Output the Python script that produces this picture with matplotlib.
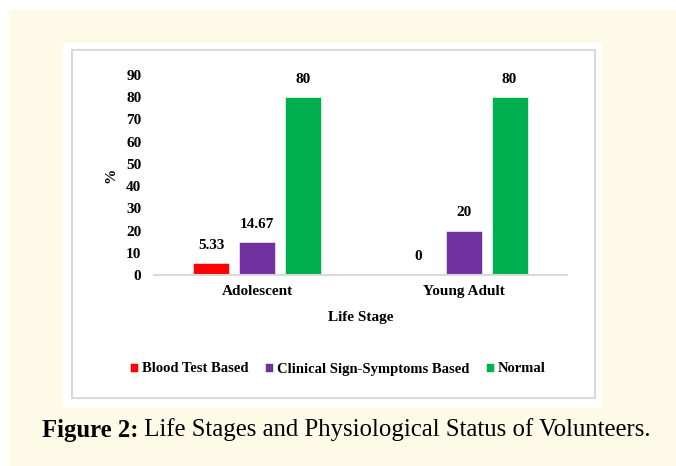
import numpy as np
import matplotlib.pyplot as plt
from matplotlib.patches import Rectangle

# data
stages = ["Adolescent", "Young Adult"]
series = ["Blood Test Based", "Clinical Sign-Symptoms Based", "Normal"]
blood = [5.33, 0]
clinical = [14.67, 20]
normal = [80, 80]
labels_blood = ["5.33", "0"]
labels_clinical = ["14.67", "20"]
labels_normal = ["80", "80"]
colors = ["#FF0000", "#7030A0", "#00B050"]

W, H = 676, 466
fig = plt.figure(figsize=(W / 100, H / 100), dpi=100)
fig.patch.set_facecolor("white")

def px_rect(x0, y0, x1, y1, **kw):
    # rectangle given in image pixel coords (origin top-left)
    r = Rectangle((x0 / W, 1 - y1 / H), (x1 - x0) / W, (y1 - y0) / H,
                  transform=fig.transFigure, **kw)
    fig.patches.append(r)

px_rect(9, 10, 676, 466, facecolor="#FEFAE8", edgecolor="none", zorder=0)
px_rect(63, 43, 602, 408, facecolor="white", edgecolor="none", zorder=1)
px_rect(72, 50, 595, 398, facecolor="white", edgecolor="#D9D9D9", linewidth=1.5, zorder=2)

font = "Liberation Serif"
fs = 11
ax = fig.add_axes([154 / W, 1 - 275 / H, 413 / W, 200 / H])
ax.set_facecolor("none")
ax.set_zorder(3)

x = np.arange(len(stages))
width = 0.175
step = 0.222
for i, (vals, labs) in enumerate(zip([blood, clinical, normal],
                                     [labels_blood, labels_clinical, labels_normal])):
    pos = x + (i - 1) * step
    bars = ax.bar(pos, vals, width, color=colors[i], label=series[i],
                  edgecolor="white", linewidth=0.4)
    for b, lab in zip(bars, labs):
        ax.annotate(lab, (b.get_x() + b.get_width() / 2, b.get_height()),
                    xytext=(0, 13), textcoords="offset points",
                    ha="center", va="center", fontsize=fs,
                    fontweight="bold", family=font)

ax.set_xlim(-0.5, 1.5)
ax.set_ylim(0, 90)
ax.set_yticks(np.arange(0, 91, 10))
ax.set_xticks(x)
ax.set_xticklabels(stages)
for sp in ["left", "right", "top"]:
    ax.spines[sp].set_visible(False)
ax.spines["bottom"].set_color("#D9D9D9")
ax.spines["bottom"].set_linewidth(1.5)
ax.tick_params(axis="both", length=0)
ax.tick_params(axis="y", pad=9)
ax.tick_params(axis="x", pad=7)
for t in ax.get_xticklabels() + ax.get_yticklabels():
    t.set_family(font)
    t.set_fontweight("bold")
    t.set_fontsize(fs)

fig.text(111 / W, 1 - 175 / H, "%", rotation=90, ha="center", va="center",
         family=font, fontweight="bold", fontsize=fs, zorder=4)
fig.text(361 / W, 1 - 317 / H, "Life Stage", ha="center", va="center",
         family=font, fontweight="bold", fontsize=fs, zorder=4)

leg = fig.legend(loc="center", bbox_to_anchor=(338 / W, 1 - 369 / H), ncol=3,
                 frameon=False, handlelength=0.55, handleheight=0.6,
                 handletextpad=0.3, columnspacing=1.1,
                 prop={"family": font, "weight": "bold", "size": fs - 0.5})
leg.set_zorder(4)

cap = 17.8
t1 = fig.text(42 / W, 1 - 430 / H, "Figure 2:", ha="left", va="center",
              family=font, fontweight="bold", fontsize=cap, zorder=4)
ax.annotate(" Life Stages and Physiological Status of Volunteers.",
            xy=(1, 0.5), xycoords=t1, ha="left", va="center",
            family=font, fontsize=cap, annotation_clip=False)

fig.savefig("out.png", dpi=100)
